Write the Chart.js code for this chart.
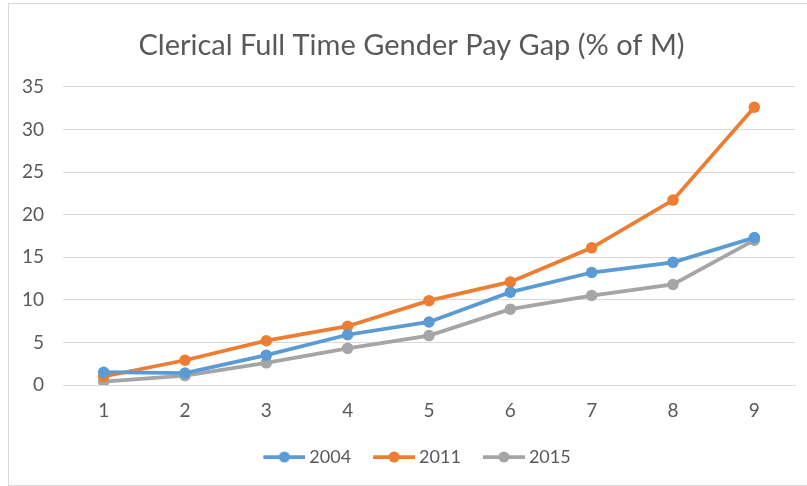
<!DOCTYPE html>
<html>
<head>
<meta charset="utf-8">
<script src="https://cdn.jsdelivr.net/npm/chart.js@4.4.1/dist/chart.umd.min.js"></script>
<style>
  html, body { margin: 0; padding: 0; background: #fff; overflow: hidden; }
  #frame { position: absolute; left: 8px; top: 3px; width: 820px; height: 483px; border: 1px solid #d9d9d9; box-sizing: border-box; }
  #wrap { position: absolute; left: 0; top: 0; width: 807px; height: 486px; }
</style>
</head>
<body>
<div id="frame"></div>
<div id="wrap"><canvas id="myChart" width="807" height="486"></canvas></div>
<script>
// datos
const categorias = ['1', '2', '3', '4', '5', '6', '7', '8', '9'];
const serie2004 = [1.5, 1.4, 3.5, 5.9, 7.4, 10.9, 13.2, 14.4, 17.3];
const serie2011 = [1.0, 2.9, 5.2, 6.9, 9.9, 12.1, 16.1, 21.7, 32.6];
const serie2015 = [0.4, 1.1, 2.6, 4.3, 5.8, 8.9, 10.5, 11.8, 17.0];
const ticksY = [0, 5, 10, 15, 20, 25, 30, 35];

const gris = '#595959';
const fuente = 'Lato, "Open Sans", sans-serif';

// icono de leyenda: linea con punto (mas ancho que la caja para pegarlo al texto)
function iconoLeyenda(color) {
    const c = document.createElement('canvas');
    c.width = 47;
    c.height = 14;
    const g = c.getContext('2d');
    g.strokeStyle = color;
    g.lineWidth = 3.75;
    g.beginPath();
    g.moveTo(5, 7);
    g.lineTo(47, 7);
    g.stroke();
    g.fillStyle = color;
    g.beginPath();
    g.arc(26, 7, 5.5, 0, Math.PI * 2);
    g.fill();
    return c;
}

function serie(label, data, color) {
    return {
        label: label,
        data: data,
        borderColor: color,
        backgroundColor: color,
        borderWidth: 3.75,
        pointRadius: 5.75,
        pointHoverRadius: 5.75,
        pointBorderWidth: 0,
        tension: 0,
        icono: iconoLeyenda(color)
    };
}

// el grafico original esta recortado a la derecha: se corre titulo y leyenda
const centrar = {
    id: 'centrar',
    afterLayout(chart) {
        chart.titleBlock.left += 9;
        chart.titleBlock.right += 9;
        chart.legend.left += 14.5;
        chart.legend.right += 14.5;
    }
};

const ctx = document.getElementById('myChart');

new Chart(ctx, {
    type: 'line',
    data: {
        labels: categorias,
        datasets: [
            serie('2004', serie2004, '#5B9BD5'),
            serie('2011', serie2011, '#ED7D31'),
            serie('2015', serie2015, '#A5A5A5')
        ]
    },
    plugins: [centrar],
    options: {
        responsive: false,
        animation: false,
        layout: {
            padding: { left: 10, right: 12, top: 0, bottom: 10 }
        },
        plugins: {
            title: {
                display: true,
                text: 'Clerical Full Time Gender Pay Gap (% of M)',
                color: gris,
                font: { family: fuente, size: 29, weight: 'normal', lineHeight: 1.2 },
                padding: { top: 28, bottom: 24 }
            },
            legend: {
                position: 'bottom',
                labels: {
                    color: gris,
                    font: { family: fuente, size: 18 },
                    usePointStyle: true,
                    pointStyleWidth: 37,
                    boxHeight: 14,
                    padding: 22,
                    generateLabels: function (chart) {
                        const items = Chart.defaults.plugins.legend.labels.generateLabels(chart);
                        items.forEach((it, i) => {
                            it.pointStyle = chart.data.datasets[i].icono;
                        });
                        return items;
                    }
                }
            },
            tooltip: { enabled: false }
        },
        scales: {
            x: {
                offset: true,
                grid: { display: false, drawTicks: false },
                border: { display: true, color: '#d9d9d9', width: 1 },
                ticks: { color: gris, font: { family: fuente, size: 19 }, padding: 14 },
                afterFit: function (scale) {
                    scale.height = 41;
                }
            },
            y: {
                min: 0,
                max: 35,
                afterBuildTicks: function (scale) {
                    scale.ticks = ticksY.map(v => ({ value: v }));
                },
                afterFit: function (scale) {
                    scale.width = 53;
                },
                grid: { color: '#d9d9d9', lineWidth: 1, drawTicks: false },
                border: { display: false },
                ticks: { color: gris, font: { family: fuente, size: 19 }, padding: 19 }
            }
        }
    }
});
</script>
</body>
</html>
